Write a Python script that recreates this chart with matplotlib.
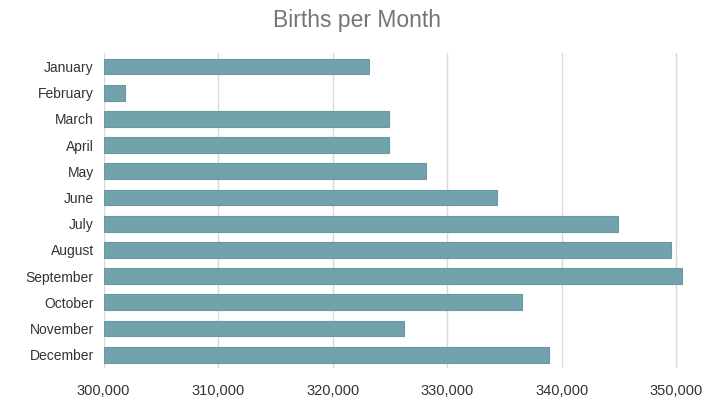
import matplotlib
matplotlib.use("Agg")
import matplotlib.pyplot as plt
from matplotlib.ticker import FuncFormatter

# Datos
months = ["January", "February", "March", "April", "May", "June",
          "July", "August", "September", "October", "November", "December"]
births = [323200, 301900, 324900, 324900, 328100, 334300,
          344900, 349500, 350500, 336500, 326200, 338900]
xticks = [300000, 310000, 320000, 330000, 340000, 350000]

plt.rcParams['font.family'] = ['Liberation Sans', 'DejaVu Sans']

fig = plt.figure(figsize=(7.2, 4.16), dpi=100)
ax = fig.add_axes([0.1438, 0.1159, 0.9714 - 0.1438, 0.8716 - 0.1159])

ypos = list(range(len(months)))
ax.barh(ypos, [b - 300000 for b in births], left=300000, height=0.6,
        color="#72a3ad", edgecolor="#6a98a2", linewidth=0.8, zorder=2)

ax.set_xlim(300000, 352000)
ax.set_ylim(11.5, -0.5)
ax.set_yticks(ypos)
ax.set_yticklabels(months)
ax.set_xticks(xticks)
ax.xaxis.set_major_formatter(FuncFormatter(lambda v, p: f"{int(v):,}"))

ax.grid(axis='x', color="#d9d9d9", linewidth=1, zorder=0)
for s in ax.spines.values():
    s.set_visible(False)
ax.tick_params(axis='both', length=0, labelsize=10, labelcolor="#333333")
ax.tick_params(axis='y', pad=7)
ax.tick_params(axis='x', pad=12, labelsize=10.5)

fig.text(0.4965, 1 - 27 / 416, "Births per Month", ha='center', va='baseline',
         fontsize=16.5, color="#757575")

fig.savefig("out.png", dpi=100)
